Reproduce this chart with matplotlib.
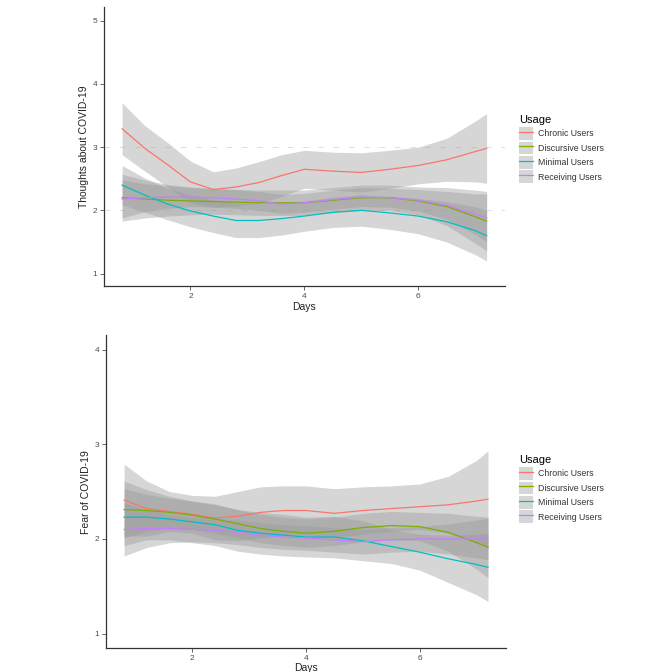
import numpy as np
import matplotlib
matplotlib.use("Agg")
import matplotlib.pyplot as plt
from matplotlib.patches import Patch
from matplotlib.lines import Line2D

plt.rcParams['font.family'] = ['Liberation Sans', 'DejaVu Sans']

# 공통 x (Days)
days = [0.8, 1.2, 1.6, 2.0, 2.4, 2.8, 3.2, 3.6, 4.0, 4.5, 5.0, 5.5, 6.0, 6.5, 7.0, 7.2]

groups = ['Chronic Users', 'Discursive Users', 'Minimal Users', 'Receiving Users']
colors = ['#F8766D', '#7CAE00', '#00BFC4', '#C77CFF']

# 위 그래프: Thoughts about COVID-19 (smooth fit, se)
thoughts_chronic = [3.29, 2.98, 2.72, 2.45, 2.33, 2.37, 2.44, 2.55, 2.65, 2.62, 2.60, 2.65, 2.71, 2.80, 2.93, 2.98]
thoughts_chronic_se = [0.41, 0.36, 0.35, 0.33, 0.28, 0.30, 0.33, 0.33, 0.30, 0.30, 0.31, 0.30, 0.29, 0.34, 0.48, 0.55]
thoughts_discursive = [2.20, 2.18, 2.16, 2.15, 2.14, 2.13, 2.12, 2.12, 2.12, 2.16, 2.20, 2.20, 2.15, 2.06, 1.90, 1.83]
thoughts_discursive_se = [0.37, 0.30, 0.25, 0.22, 0.20, 0.20, 0.20, 0.20, 0.20, 0.20, 0.20, 0.20, 0.22, 0.30, 0.42, 0.47]
thoughts_minimal = [2.40, 2.24, 2.10, 1.99, 1.91, 1.84, 1.84, 1.87, 1.91, 1.97, 2.00, 1.96, 1.91, 1.82, 1.68, 1.60]
thoughts_minimal_se = [0.31, 0.27, 0.25, 0.25, 0.26, 0.27, 0.27, 0.26, 0.24, 0.24, 0.25, 0.26, 0.28, 0.32, 0.38, 0.40]
thoughts_receiving = [2.18, 2.20, 2.21, 2.21, 2.20, 2.18, 2.15, 2.10, 2.12, 2.17, 2.21, 2.20, 2.16, 2.08, 1.94, 1.88]
thoughts_receiving_se = [0.30, 0.22, 0.18, 0.15, 0.15, 0.15, 0.15, 0.15, 0.15, 0.15, 0.15, 0.15, 0.17, 0.22, 0.32, 0.38]

# 아래 그래프: Fear of COVID-19
fear_chronic = [2.41, 2.32, 2.29, 2.26, 2.22, 2.24, 2.28, 2.30, 2.30, 2.27, 2.30, 2.32, 2.34, 2.36, 2.40, 2.42]
fear_chronic_se = [0.38, 0.29, 0.21, 0.20, 0.23, 0.26, 0.27, 0.26, 0.26, 0.26, 0.25, 0.24, 0.24, 0.30, 0.43, 0.51]
fear_discursive = [2.31, 2.30, 2.28, 2.25, 2.21, 2.16, 2.11, 2.08, 2.06, 2.08, 2.12, 2.14, 2.13, 2.07, 1.96, 1.91]
fear_discursive_se = [0.30, 0.22, 0.17, 0.15, 0.15, 0.15, 0.15, 0.15, 0.15, 0.15, 0.15, 0.15, 0.15, 0.20, 0.28, 0.32]
fear_minimal = [2.23, 2.23, 2.21, 2.18, 2.15, 2.09, 2.06, 2.04, 2.02, 2.02, 1.98, 1.92, 1.86, 1.79, 1.73, 1.70]
fear_minimal_se = [0.30, 0.24, 0.22, 0.22, 0.22, 0.22, 0.22, 0.22, 0.21, 0.22, 0.21, 0.18, 0.19, 0.25, 0.32, 0.36]
fear_receiving = [2.10, 2.11, 2.11, 2.10, 2.09, 2.07, 2.04, 2.02, 2.01, 1.99, 1.97, 1.99, 2.00, 2.00, 2.00, 2.00]
fear_receiving_se = [0.28, 0.20, 0.15, 0.13, 0.13, 0.13, 0.13, 0.13, 0.13, 0.13, 0.13, 0.13, 0.13, 0.16, 0.20, 0.22]

thoughts = [(thoughts_chronic, thoughts_chronic_se), (thoughts_discursive, thoughts_discursive_se),
            (thoughts_minimal, thoughts_minimal_se), (thoughts_receiving, thoughts_receiving_se)]
fear = [(fear_chronic, fear_chronic_se), (fear_discursive, fear_discursive_se),
        (fear_minimal, fear_minimal_se), (fear_receiving, fear_receiving_se)]

fig = plt.figure(figsize=(6.66, 6.72), dpi=100)
ax1 = fig.add_axes([0.156, 0.574, 0.602, 0.416])
ax2 = fig.add_axes([0.159, 0.036, 0.601, 0.465])

band_color = '#999999'


def draw_panel(ax, series, ylabel, ylim, yticks):
    x = np.array(days)
    for (m, se), c in zip(series, colors):
        m = np.array(m)
        se = np.array(se)
        ax.fill_between(x, m - se, m + se, color=band_color, alpha=0.4, lw=0, zorder=1)
    for (m, se), c in zip(series, colors):
        ax.plot(x, m, color=c, lw=0.9, zorder=3)
    ax.set_xlim(0.48, 7.52)
    ax.set_ylim(*ylim)
    ax.set_xticks([2, 4, 6])
    ax.set_yticks(yticks)
    for s in ['top', 'right']:
        ax.spines[s].set_visible(False)
    for s in ['left', 'bottom']:
        ax.spines[s].set_color('#333333')
        ax.spines[s].set_linewidth(0.9)
    ax.tick_params(axis='both', labelsize=6, colors='#4d4d4d', length=3, width=0.6, pad=2)
    ax.set_xlabel('Days', fontsize=7.5, color='#222222', labelpad=1)
    ax.set_ylabel(ylabel, fontsize=7.5, color='#222222', labelpad=2)

    handles = [(Patch(facecolor='#d6d6d6', edgecolor='none'), Line2D([], [], color=c, lw=0.9)) for c in colors]
    return handles


h1 = draw_panel(ax1, thoughts, 'Thoughts about COVID-19', (0.8, 5.22), [1, 2, 3, 4, 5])
# 희미한 점선 기준선
for yv in [2, 3]:
    ax1.axhline(yv, color='#999999', lw=0.5, ls=(0, (8, 14)), alpha=0.45, zorder=2)
h2 = draw_panel(ax2, fear, 'Fear of COVID-19', (0.85, 4.15), [1, 2, 3, 4])

for h, ytop in [(h1, 111), (h2, 451)]:
    leg = fig.legend(h, groups, title='Usage', loc='upper left',
                     bbox_to_anchor=(515 / 666, 1 - ytop / 672), frameon=False,
                     fontsize=6.3, title_fontsize=8, handlelength=1.6, handleheight=1.85,
                     labelspacing=0.2, borderpad=0, handletextpad=0.5, alignment='left')
    for t in leg.get_texts():
        t.set_color('#333333')

fig.savefig('out.png', dpi=100)
